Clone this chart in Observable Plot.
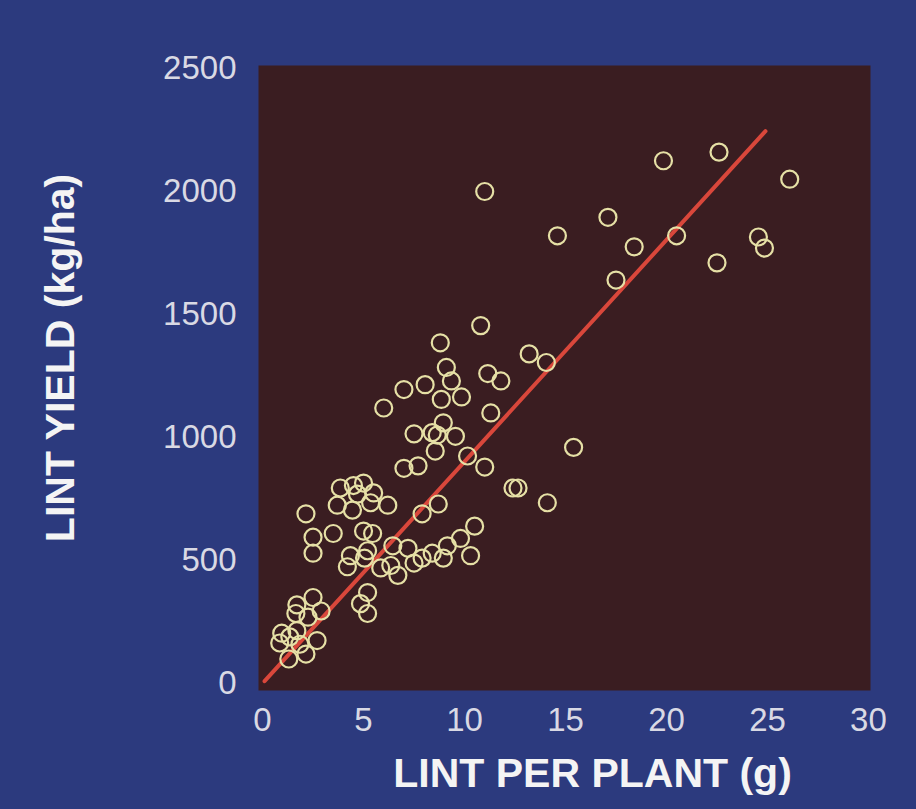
<!DOCTYPE html>
<html>
<head>
<meta charset="utf-8">
<script src="https://cdn.jsdelivr.net/npm/d3@7"></script>
<script src="https://cdn.jsdelivr.net/npm/@observablehq/plot@0.6"></script>
<style>
  html, body { margin: 0; padding: 0; background: #2c3a7e; }
  #chart svg { display: block; }
</style>
</head>
<body>
<div id="chart"></div>
<script>
// Lint per plant (g) for each plot
const lintPerPlant = [
  11.0, 14.6, 19.85, 22.6, 26.1, 17.1, 18.4, 20.5, 17.5, 22.5, 24.55, 24.85,
  10.8, 8.8, 13.2, 14.05, 9.1, 9.35, 11.15, 11.8, 7.0, 8.05, 8.85, 9.85,
  6.0, 11.3, 15.4, 7.5, 8.4, 8.95, 8.65, 9.55, 8.55, 10.15, 7.7, 7.0,
  11.0, 12.4, 12.65, 14.1, 8.7, 7.9, 10.5, 9.8, 10.3, 9.15, 8.95, 8.4,
  6.45, 7.2, 7.5, 6.35, 6.7, 7.9, 6.2, 3.85, 4.5, 5.0, 5.5, 4.7,
  3.7, 4.45, 5.35, 3.5, 5.0, 5.45, 4.35, 4.2, 5.05, 5.2, 5.85, 5.2,
  4.85, 5.2, 2.15, 2.5, 2.5, 2.5, 1.7, 1.65, 2.9, 2.25, 0.95, 1.35,
  1.7, 0.85, 1.85, 2.7, 2.15, 1.3
];
// Lint yield (kg/ha) for each plot
const lintYield = [
  2000, 1820, 2125, 2160, 2050, 1895, 1775, 1820, 1640, 1710, 1815, 1770,
  1455, 1385, 1340, 1305, 1285, 1230, 1260, 1230, 1195, 1215, 1155, 1165,
  1120, 1100, 960, 1015, 1020, 1060, 1010, 1005, 945, 925, 885, 875,
  880, 795, 795, 735, 730, 690, 640, 590, 520, 560, 510, 530,
  560, 550, 490, 480, 440, 510, 725, 795, 805, 815, 775, 770,
  725, 705, 735, 610, 620, 610, 520, 475, 510, 540, 470, 370,
  325, 285, 690, 595, 530, 350, 320, 285, 295, 270, 205, 190,
  215, 165, 160, 175, 120, 100
];
// Fitted line end points
const fitX = [0.1, 24.9];
const fitY = [10, 2245];
// Tick values
const xTicks = [0, 5, 10, 15, 20, 25, 30];
const yTicks = [0, 500, 1000, 1500, 2000, 2500];
const xTitle = "LINT PER PLANT (g)";
const yTitle = "LINT YIELD (kg/ha)";

const points = lintPerPlant.map((x, i) => ({x, y: lintYield[i]}));
const fit = fitX.map((x, i) => ({x, y: fitY[i]}));

const chart = Plot.plot({
  width: 916,
  height: 809,
  marginLeft: 258,
  marginRight: 46,
  marginTop: 65,
  marginBottom: 119,
  style: {background: "#2c3a7e", fontFamily: "'Liberation Sans', Arial, sans-serif"},
  x: {domain: [-0.2, 30.1]},
  y: {domain: [-28, 2512]},
  marks: [
    Plot.frame({fill: "#3a1d21", stroke: null}),
    Plot.axisX({ticks: xTicks, tickFormat: d3.format("d"), tickSize: 0, tickPadding: 17, label: null,
      fontSize: 33, fill: "#d9d9e4", style: {letterSpacing: "3px"}}),
    Plot.axisY({ticks: yTicks, tickFormat: d3.format("d"), tickSize: 0, tickPadding: 22, label: null,
      fontSize: 33, fill: "#d9d9e4", style: {letterSpacing: "3px"}}),
    Plot.line(fit, {x: "x", y: "y", stroke: "#d9473b", strokeWidth: 4}),
    Plot.dot(points, {x: "x", y: "y", r: 8.5, stroke: "#e6e0a6", strokeWidth: 2.2, fill: "none"}),
    Plot.text([xTitle], {frameAnchor: "bottom", textAnchor: "middle", dx: 28, dy: 96, fontSize: 41, fontWeight: "bold", fill: "#f4f4f4"}),
    Plot.text([yTitle], {frameAnchor: "left", textAnchor: "middle", rotate: -90, dx: -198, dy: -20, fontSize: 41, fontWeight: "bold", fill: "#f4f4f4"})
  ]
});
document.getElementById("chart").appendChild(chart);
</script>
</body>
</html>
